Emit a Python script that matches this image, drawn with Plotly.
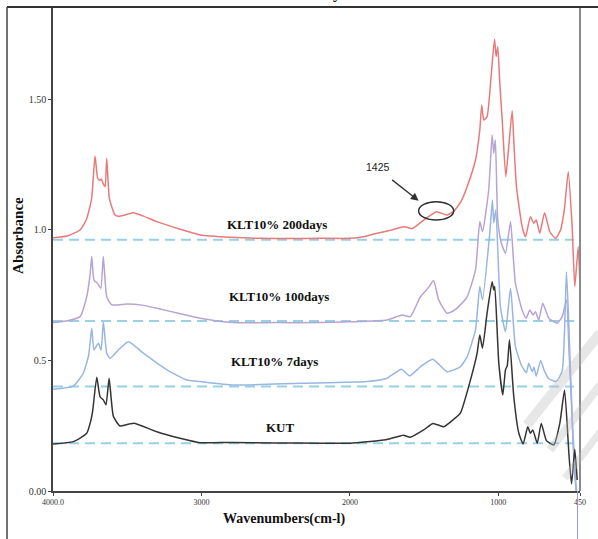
import plotly.graph_objects as go

# ---------------- data ----------------
wn_red = [4000, 3900, 3818, 3775, 3740, 3717, 3700, 3688, 3675, 3660, 3649, 3638, 3620, 3582, 3560,
          3500, 3458, 3400, 3301, 3144, 3009, 2800, 2600, 2400, 2200, 2000, 1900, 1817, 1720, 1660,
          1640, 1615, 1580, 1503, 1460, 1417, 1345, 1300, 1250, 1210, 1154, 1125, 1112, 1098, 1076,
          1049, 1026, 1015, 1004, 990, 974, 950, 930, 907, 895, 878, 840, 817, 784, 761, 745, 721,
          689, 653, 615, 581, 555, 529, 503, 485, 462, 446]
ab_red = [0.970, 0.978, 1.000, 1.040, 1.120, 1.283, 1.200, 1.190, 1.195, 1.175, 1.166, 1.275, 1.120, 1.057, 1.052,
          1.060, 1.066, 1.055, 1.032, 1.003, 0.981, 0.972, 0.968, 0.967, 0.968, 0.968, 0.975, 0.987, 1.000, 1.009,
          1.012, 1.010, 1.005, 1.038, 1.055, 1.070, 1.057, 1.072, 1.110, 1.166, 1.268, 1.383, 1.479, 1.421, 1.434,
          1.587, 1.730, 1.664, 1.702, 1.560, 1.421, 1.204, 1.319, 1.457, 1.330, 1.166, 1.013, 0.974, 1.051, 1.026, 1.038, 0.987,
          1.066, 0.993, 0.968, 1.000, 1.080, 1.223, 1.013, 0.783, 0.936, 0.706]

wn_purple = [4000, 3900, 3818, 3773, 3750, 3739, 3724, 3701, 3678, 3661, 3638, 3604, 3503, 3400, 3301,
             3150, 3009, 2786, 2500, 2200, 2000, 1750, 1649, 1593, 1525, 1470, 1436, 1402, 1345, 1290,
             1256, 1210, 1154, 1125, 1107, 1065, 1042, 1031, 1020, 1004, 980, 952, 918, 900, 885, 840,
             813, 788, 766, 750, 728, 701, 660, 604, 570, 541, 525, 505, 490, 470, 462]
ab_purple = [0.645, 0.652, 0.668, 0.744, 0.830, 0.898, 0.808, 0.796, 0.777, 0.898, 0.744, 0.713, 0.716, 0.712, 0.700,
             0.680, 0.662, 0.645, 0.645, 0.645, 0.648, 0.655, 0.674, 0.668, 0.744, 0.780, 0.806, 0.732, 0.681, 0.695,
             0.713, 0.744, 0.847, 1.032, 0.993, 1.153, 1.364, 1.294, 1.345, 1.038, 0.950, 0.911, 1.032, 0.900, 0.796, 0.693,
             0.662, 0.693, 0.674, 0.687, 0.655, 0.719, 0.662, 0.643, 0.668, 0.732, 0.550, 0.300, 0.100, -0.050, -0.200]

wn_blue = [4000, 3863, 3796, 3760, 3739, 3724, 3695, 3676, 3661, 3638, 3616, 3560, 3492, 3391, 3233,
           3098, 3009, 2784, 2334, 1885, 1750, 1653, 1597, 1525, 1442, 1345, 1256, 1210, 1154, 1125,
           1107, 1058, 1040, 1031, 1017, 986, 952, 918, 885, 840, 811, 795, 772, 760, 745, 715, 690,
           660, 610, 570, 541, 520, 500, 480, 465]
ab_blue = [0.390, 0.402, 0.451, 0.520, 0.623, 0.540, 0.566, 0.540, 0.649, 0.528, 0.508, 0.540, 0.572, 0.528, 0.464,
           0.425, 0.419, 0.406, 0.413, 0.419, 0.432, 0.466, 0.441, 0.476, 0.505, 0.457, 0.476, 0.515, 0.617, 0.783,
           0.732, 0.987, 1.115, 1.027, 1.077, 0.706, 0.610, 0.777, 0.553, 0.476, 0.453, 0.489, 0.457, 0.475, 0.440, 0.500, 0.460,
           0.430, 0.420, 0.460, 0.840, 0.550, 0.250, 0.050, -0.050]

wn_black = [4000, 3863, 3773, 3745, 3732, 3705, 3683, 3661, 3643, 3622, 3593, 3548, 3500, 3447, 3301,
            3144, 3009, 2800, 2500, 2200, 1997, 1773, 1660, 1640, 1593, 1503, 1440, 1368, 1300, 1256,
            1188, 1143, 1125, 1107, 1076, 1042, 1031, 1024, 997, 970, 952, 940, 925, 896, 862, 833,
            802, 784, 768, 738, 711, 676, 627, 586, 554, 525, 507, 485, 469]
ab_black = [0.180, 0.189, 0.221, 0.270, 0.310, 0.436, 0.361, 0.349, 0.330, 0.432, 0.285, 0.249, 0.255, 0.259, 0.227,
            0.202, 0.185, 0.186, 0.184, 0.183, 0.183, 0.195, 0.211, 0.214, 0.206, 0.234, 0.259, 0.246, 0.275, 0.298,
            0.425, 0.528, 0.598, 0.547, 0.681, 0.802, 0.770, 0.783, 0.489, 0.368, 0.464, 0.480, 0.579, 0.361, 0.221, 0.180,
            0.246, 0.221, 0.234, 0.183, 0.259, 0.193, 0.176, 0.259, 0.387, 0.144, 0.027, 0.160, 0.042]

baselines = [0.962, 0.651, 0.400, 0.183]
baseline_span = [4000, 490]

series_names = ["KLT10% 200days", "KLT10% 100days", "KLT10% 7days", "KUT"]
label_wn = [2490, 2476, 2510, 2469]
label_ab = [1.019, 0.744, 0.495, 0.245]

x_tickvals = [4000, 3000, 2000, 1000, 450]
x_ticktext = ["4000.0", "3000", "2000", "1000", "450"]
y_tickvals = [0.0, 0.5, 1.0, 1.5]
y_ticktext = ["0.00", "0.5", "1.0", "1.50"]

peak_label = "1425"

# ---------------- figure ----------------
colors = ["rgb(232,122,122)", "rgb(182,164,212)", "rgb(152,182,226)", "rgb(52,52,52)"]
series = [(wn_red, ab_red), (wn_purple, ab_purple), (wn_blue, ab_blue), (wn_black, ab_black)]

fig = go.Figure()

for b in baselines:
    fig.add_trace(go.Scatter(x=baseline_span, y=[b, b], mode="lines",
                             line=dict(color="rgb(150,210,228)", width=2, dash="10px,6px"),
                             hoverinfo="skip", showlegend=False))

for (wx, wy), c, n in zip(series, colors, series_names):
    fig.add_trace(go.Scatter(x=wx, y=wy, mode="lines", name=n,
                             line=dict(color=c, width=1.5, shape="spline", smoothing=0.5),
                             showlegend=False))

serif = "Liberation Serif, Times New Roman, serif"
annotations = []
for n, lx, ly in zip(series_names, label_wn, label_ab):
    annotations.append(dict(x=lx, y=ly, xref="x", yref="y", text="<b>%s</b>" % n, showarrow=False,
                            xanchor="center", yanchor="middle",
                            font=dict(family=serif, size=13, color="#111")))

# 1425 label + arrow
annotations.append(dict(x=1808, y=1.243, xref="x", yref="y", text=peak_label, showarrow=False,
                        xanchor="center", yanchor="middle",
                        font=dict(family="Liberation Sans, Arial, sans-serif", size=10.5, color="#222")))
annotations.append(dict(x=1537, y=1.112, xref="x", yref="y", text="", showarrow=True,
                        ax=-28, ay=-22, axref="pixel", ayref="pixel",
                        arrowhead=2, arrowsize=1.2, arrowwidth=1.3, arrowcolor="#333"))

# axis titles
annotations.append(dict(x=0.438, y=-0.058, xref="paper", yref="paper", text="<b>Wavenumbers(cm-l)</b>",
                        xanchor="center", yanchor="middle",
                        showarrow=False, font=dict(family=serif, size=14, color="#111")))
annotations.append(dict(x=-0.0664, y=0.527, xref="paper", yref="paper", text="<b>Absorbance</b>",
                        xanchor="center", yanchor="middle",
                        textangle=-90, showarrow=False, font=dict(family=serif, size=15, color="#111")))
# cut-off title glyph at the very top
annotations.append(dict(x=0.539, y=1.0, xref="paper", yref="paper", text="<b>y</b>", yanchor="bottom",
                        yshift=3, showarrow=False, font=dict(family=serif, size=16, color="#111")))

shapes = [
    # ellipse around the 1425 band
    dict(type="circle", xref="x", yref="y", x0=1537, x1=1301, y0=1.038, y1=1.108,
         line=dict(color="#333", width=1.5)),
    # right border of the plot
    dict(type="line", xref="paper", yref="paper", x0=1, x1=1, y0=0, y1=1,
         line=dict(color="#8a8a8a", width=2)),
    # outer frame (top and left)
    dict(type="line", xref="paper", yref="paper", x0=-0.0873, x1=1.05, y0=1, y1=1,
         line=dict(color="#333", width=2)),
    dict(type="line", xref="paper", yref="paper", x0=-0.0873, x1=-0.0873, y0=1, y1=-0.12,
         line=dict(color="#444", width=1.5)),
    # purple line running past the axis
    dict(type="line", xref="x", yref="paper", x0=wn_purple[-1] + 5, x1=wn_purple[-1] + 5, y0=0, y1=-0.11,
         line=dict(color="rgb(150,150,220)", width=1)),
]

# faint watermark stripes (bottom right)
for (px0, py0, px1, py1, w) in [(527, 425, 600, 333, 10), (550, 450, 600, 385, 8), (565, 478, 600, 432, 7)]:
    shapes.append(dict(type="line", xref="paper", yref="paper",
                       x0=(px0 - 53) / 527, x1=(px1 - 53) / 527,
                       y0=(491 - py0) / 484, y1=(491 - py1) / 484,
                       line=dict(color="rgba(185,185,185,0.35)", width=w), layer="above"))

fig.update_layout(
    width=598, height=539,
    margin=dict(l=53, r=18, t=7, b=48),
    paper_bgcolor="white", plot_bgcolor="white",
    annotations=annotations, shapes=shapes,
    xaxis=dict(range=[4000, 450], tickvals=x_tickvals, ticktext=x_ticktext,
               showgrid=False, zeroline=False, showline=True, linecolor="#444", linewidth=1.5,
               ticks="outside", ticklen=3, tickcolor="#444",
               tickfont=dict(family=serif, size=8, color="#333")),
    yaxis=dict(range=[0, 1.854], tickvals=y_tickvals, ticktext=y_ticktext,
               showgrid=False, zeroline=False, showline=True, linecolor="#444", linewidth=1.5,
               ticks="outside", ticklen=3, tickcolor="#444",
               tickfont=dict(family=serif, size=10, color="#333")),
    showlegend=False,
)

fig.write_html("out.html")
